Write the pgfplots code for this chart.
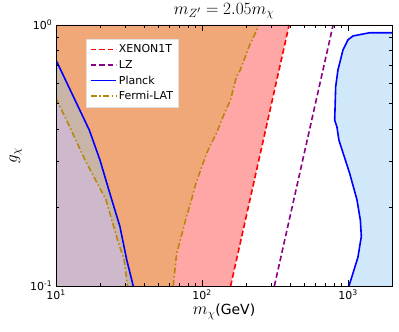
\documentclass[border=0pt]{standalone}
\usepackage{fontspec}
\setmainfont{DejaVu Sans}
\usepackage{pgfplots}
\pgfplotsset{compat=1.18}
\definecolor{orangefill}{HTML}{F1A878}
\definecolor{tanfill}{HTML}{C9B5A8}
\definecolor{mauvefill}{HTML}{CEB9CC}
\definecolor{pinkfill}{HTML}{FFA6A6}
\definecolor{bluefill}{HTML}{D0E8FA}
\definecolor{fermi}{HTML}{B8860B}
\definecolor{lzpurple}{HTML}{8B008B}
\definecolor{xenonred}{HTML}{FF0000}
\begin{document}
\fontsize{11}{13}\selectfont
\begin{tikzpicture}
\begin{axis}[
  scale only axis, width=336bp, height=261bp,
  xmode=log, ymode=log, xmin=10, xmax=2000, ymin=0.1, ymax=1,
  axis on top,
  axis line style={line width=0.9bp},
  tick align=inside,
  tick style={black, line width=0.7bp},
  major tick length=6bp, minor tick length=3.5bp,
  tick label style={font=\fontsize{11}{13}\selectfont},
  xtick={10,100,1000},
  xticklabels={10\textsuperscript{1},10\textsuperscript{2},10\textsuperscript{3}},
  minor xtick={20,30,40,50,60,70,80,90,200,300,400,500,600,700,800,900,2000},
  ytick={0.1,1},
  yticklabels={10\textsuperscript{-1},10\textsuperscript{0}},
  minor ytick={0.2,0.3,0.4,0.5,0.6,0.7,0.8,0.9},
  xlabel={\fontsize{17.28}{19}\selectfont$m_\chi$\fontsize{14}{16}\selectfont(GeV)},
  ylabel={\fontsize{17.28}{19}\selectfont$g_\chi$},
  title={\fontsize{17.28}{19}\selectfont$m_{Z'}=2.05m_\chi$},
  title style={yshift=-4bp},
  ylabel style={at={(axis description cs:-0.12,0.5)}, anchor=center},
  xlabel style={yshift=3bp},
  legend style={at={(rel axis cs:0.089,0.946)}, anchor=north west,
    draw=gray!25, fill=white, font=\fontsize{11}{13}\selectfont,
    row sep=1.8bp, inner sep=3.5bp},
  legend cell align=left,
  legend image code/.code={\draw[#1, line width=1.8bp] (0cm,0.25bp) -- (0.9cm,0.25bp);},
]
\addlegendimage{color=xenonred, dash pattern=on 5.5bp off 3bp}
\addlegendentry{XENON1T}
\addlegendimage{color=lzpurple, dash pattern=on 5.5bp off 3bp}
\addlegendentry{LZ}
\addlegendimage{color=blue}
\addlegendentry{Planck}
\addlegendimage{color=fermi, dash pattern=on 6bp off 2.5bp on 1.5bp off 2.5bp}
\addlegendentry{Fermi-LAT}
% background orange
\addplot[draw=none, fill=orangefill, forget plot] coordinates {(10,0.1) (2000,0.1) (2000,1) (10,1)} \closedcycle;
% tan band under Planck left
\addplot[draw=none, fill=tanfill, forget plot] coordinates {
(10,0.1) (10,0.734) (16.9,0.396) (20,0.304) (23.4,0.226) (27.4,0.169) (30.5,0.126) (33.8,0.1)} -- cycle;
% mauve under Fermi left
\addplot[draw=none, fill=mauvefill, forget plot] coordinates {
(10,0.1) (10,0.524) (12.7,0.396) (15.8,0.304) (22.0,0.214) (26.4,0.150) (29.3,0.126) (30.9,0.1)} -- cycle;
% pink between Fermi middle and XENON1T
\addplot[draw=none, fill=pinkfill, forget plot] coordinates {
(63.4,0.1) (67.0,0.133) (78.4,0.185) (84.7,0.214) (90.7,0.247) (107.4,0.322) (113,0.342) (125.6,0.385) (139.4,0.446) (156.6,0.516) (172,0.634) (183,0.673) (212,0.838) (246,1) (395,1) (157,0.1)} -- cycle;
% white between XENON1T and Planck right
\addplot[draw=none, fill=white, forget plot] coordinates {
(157,0.1) (395,1) (2000,1) (2000,0.934) (1406,0.934) (1081,0.908) (998,0.877) (923,0.802) (853,0.673) (823,0.581) (810,0.432) (839,0.407) (866,0.362) (1026,0.270) (1151,0.214) (1214,0.179) (1233,0.155) (1169,0.129) (1081,0.112) (1015,0.1)} -- cycle;
% light blue right of Planck right
\addplot[draw=none, fill=bluefill, forget plot] coordinates {
(2000,0.934) (1406,0.934) (1081,0.908) (998,0.877) (923,0.802) (853,0.673) (823,0.581) (810,0.432) (839,0.407) (866,0.362) (1026,0.270) (1151,0.214) (1214,0.179) (1233,0.155) (1169,0.129) (1081,0.112) (1015,0.1) (2000,0.1)} -- cycle;
% lines
\addplot[color=xenonred, line width=1.6bp, dash pattern=on 5.5bp off 3bp, forget plot] coordinates {(157,0.1) (395,1)};
\addplot[color=lzpurple, line width=1.6bp, dash pattern=on 5.5bp off 3bp, forget plot] coordinates {(313,0.1) (790,1)};
\addplot[color=blue, line width=1.6bp, forget plot] coordinates {
(10,0.734) (16.9,0.396) (20,0.304) (23.4,0.226) (27.4,0.169) (30.5,0.126) (33.8,0.1)};
\addplot[color=fermi, line width=1.6bp, dash pattern=on 6bp off 2.5bp on 1.5bp off 2.5bp, forget plot] coordinates {
(10,0.524) (12.7,0.396) (15.8,0.304) (22.0,0.214) (26.4,0.150) (29.3,0.126) (30.9,0.1)};
\addplot[color=blue, line width=1.6bp, forget plot] coordinates {
(2000,0.934) (1406,0.934) (1081,0.908) (998,0.877) (923,0.802) (853,0.673) (823,0.581) (810,0.432) (839,0.407) (866,0.362) (1026,0.270) (1151,0.214) (1214,0.179) (1233,0.155) (1169,0.129) (1081,0.112) (1015,0.1)};
\addplot[color=fermi, line width=1.6bp, dash pattern=on 6bp off 2.5bp on 1.5bp off 2.5bp, forget plot] coordinates {
(63.4,0.1) (67.0,0.133) (78.4,0.185) (84.7,0.214) (90.7,0.247) (107.4,0.322) (113,0.342) (125.6,0.385) (139.4,0.446) (156.6,0.516) (172,0.634) (183,0.673) (212,0.838) (246,1)};
\coordinate (ll) at (rel axis cs:0,0);
\coordinate (ur) at (rel axis cs:1,1);
\end{axis}
\pgfresetboundingbox
\path[use as bounding box] ([shift={(-56bp,-46bp)}]ll) rectangle ([shift={(7bp,25bp)}]ur);
\end{tikzpicture}
\end{document}
